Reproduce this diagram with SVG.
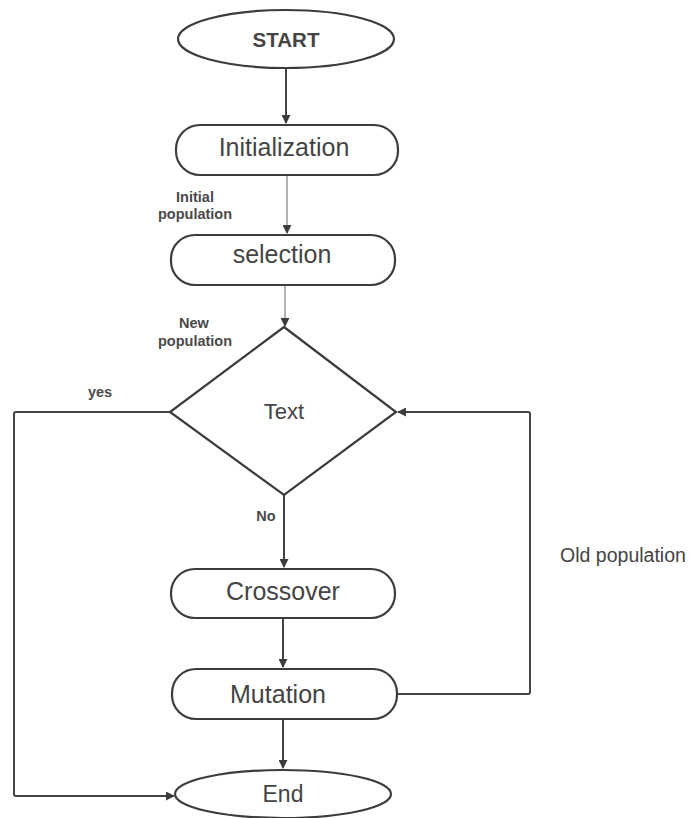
<svg xmlns="http://www.w3.org/2000/svg" width="692" height="818" viewBox="0 0 692 818">
  <style>
    .shape { fill: #ffffff; stroke: #3c3c3c; stroke-width: 2.2; }
    .edge { fill: none; stroke: #444444; stroke-width: 2; }
    .edge.light { stroke: #8a8a8a; stroke-width: 1.3; }
    .label { font-family: "Liberation Sans", Arial, sans-serif; fill: #444444; text-anchor: middle; }
    .big { font-size: 25px; }
    .small { font-size: 14.5px; font-weight: bold; fill: #4a4a4a; }
  </style>
  <defs>
    <marker id="arrow" viewBox="0 0 10 10" refX="9" refY="5" markerWidth="9" markerHeight="9" markerUnits="userSpaceOnUse" orient="auto">
      <path d="M0,0 L10,5 L0,10 z" fill="#3c3c3c"/>
    </marker>
  </defs>

  <rect width="692" height="818" fill="#ffffff"/>

  <!-- connectors -->
  <g id="connectors">
    <path class="edge" d="M286,68 V123" marker-end="url(#arrow)"/>
    <path class="edge light" d="M287,175 V233" marker-end="url(#arrow)"/>
    <path class="edge light" d="M285,285 V326" marker-end="url(#arrow)"/>
    <path class="edge" d="M284,495 V567" marker-end="url(#arrow)"/>
    <path class="edge" d="M283,618 V667" marker-end="url(#arrow)"/>
    <path class="edge" d="M283,719 V768" marker-end="url(#arrow)"/>
    <!-- yes branch -->
    <path class="edge" d="M170,412 H16 Q14,412 14,414 V794 Q14,796 16,796 H174" marker-end="url(#arrow)"/>
    <!-- loop back -->
    <path class="edge" d="M397,694 H528 Q530,694 530,692 V414 Q530,412 528,412 H398" marker-end="url(#arrow)"/>

    <text class="label small" x="195" y="202">Initial</text>
    <text class="label small" x="195" y="219">population</text>
    <text class="label small" x="194" y="328">New</text>
    <text class="label small" x="195" y="346">population</text>
    <text class="label small" x="100" y="397">yes</text>
    <text class="label small" x="266" y="521">No</text>
    <text class="label" x="623" y="562" font-size="19.5" text-anchor="middle">Old population</text>
  </g>

  <g id="start">
    <ellipse class="shape" cx="286" cy="39" rx="108" ry="29"/>
    <text class="label" x="286" y="47" font-size="20.5" font-weight="bold">START</text>
  </g>

  <g id="initialization">
    <rect class="shape" x="176" y="125" width="222" height="50" rx="24"/>
    <text class="label big" x="284" y="156">Initialization</text>
  </g>

  <g id="selection">
    <rect class="shape" x="171" y="235" width="224" height="50" rx="24"/>
    <text class="label big" x="282" y="263" font-size="26">selection</text>
  </g>

  <g id="decision">
    <polygon class="shape" points="284,327 396,412 284,495 170,412"/>
    <text class="label" x="284" y="419" font-size="22">Text</text>
  </g>

  <g id="crossover">
    <rect class="shape" x="171" y="569" width="224" height="49" rx="24"/>
    <text class="label big" x="283" y="600">Crossover</text>
  </g>

  <g id="mutation">
    <rect class="shape" x="172" y="669" width="225" height="50" rx="24"/>
    <text class="label big" x="278" y="703">Mutation</text>
  </g>

  <g id="end">
    <ellipse class="shape" cx="283" cy="794" rx="108" ry="24"/>
    <text class="label" x="283" y="802" font-size="23">End</text>
  </g>
</svg>
